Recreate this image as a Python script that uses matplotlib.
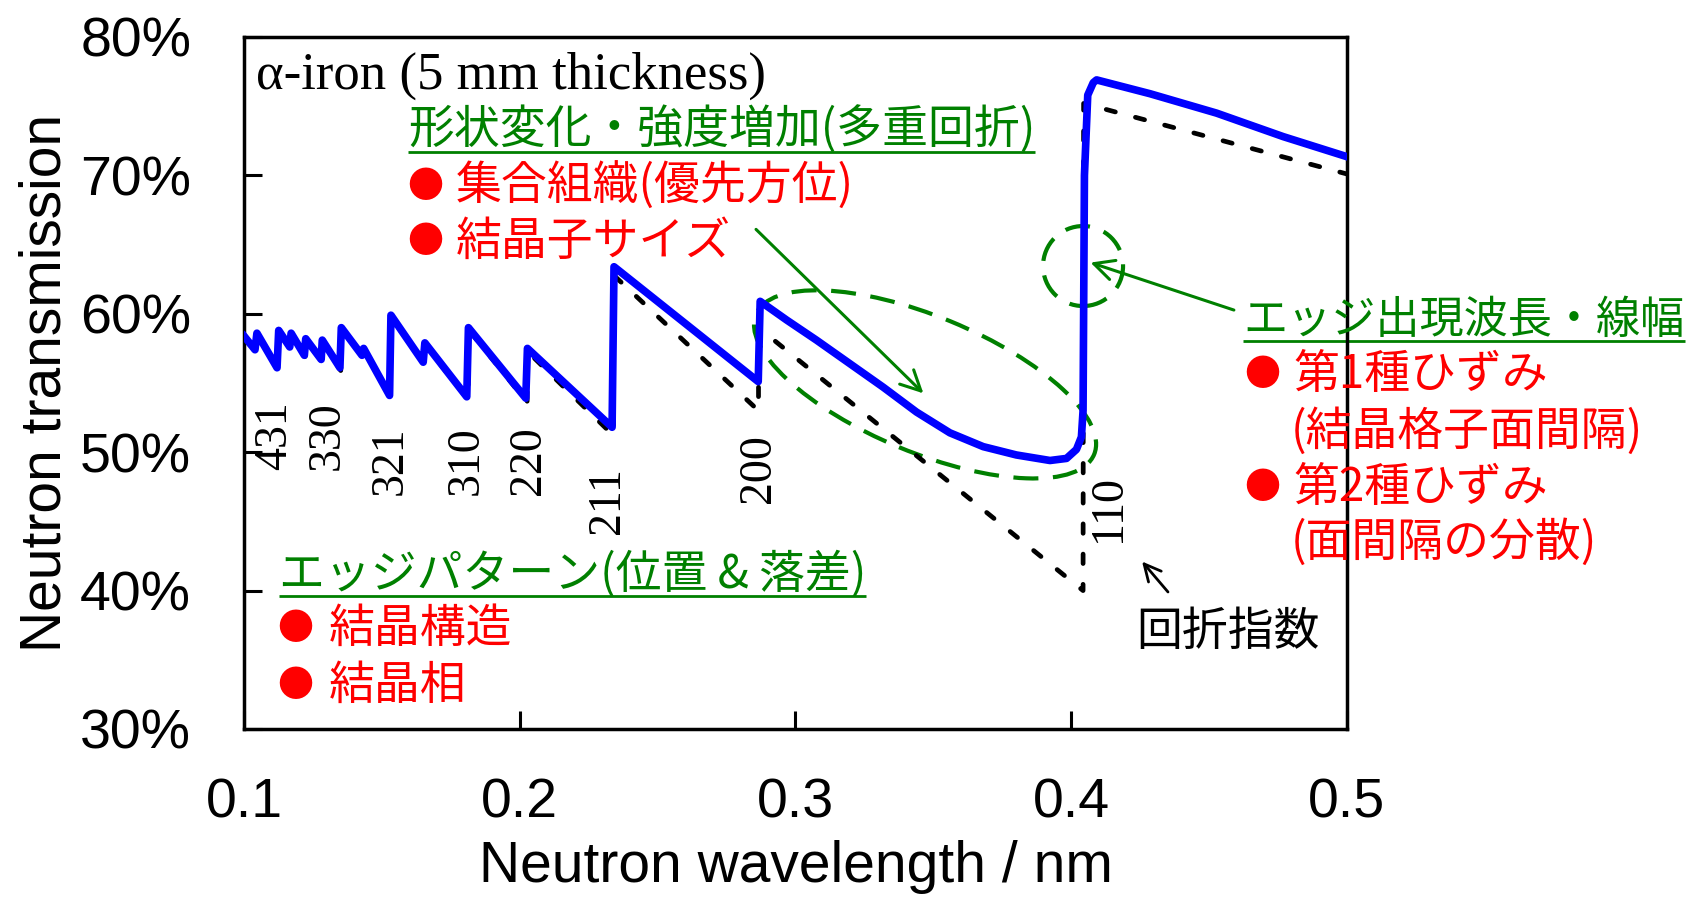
import matplotlib
matplotlib.use("Agg")
import matplotlib.pyplot as plt
from matplotlib.patches import Ellipse, Circle
from matplotlib.transforms import ScaledTranslation

# ---------------- data ----------------
# measured neutron transmission of alpha-iron (%), wavelength in nm
wavelength = [0.1000, 0.1040, 0.1047, 0.1120, 0.1126, 0.1166, 0.1171, 0.1219, 0.1224,
              0.1280, 0.1284, 0.1348, 0.1353, 0.1428, 0.1434, 0.1528, 0.1533, 0.1650,
              0.1656, 0.1808, 0.1814, 0.2022, 0.2028, 0.2335, 0.2342,
              0.2865, 0.2872, 0.2968, 0.3076, 0.3197, 0.3318, 0.3439, 0.3560, 0.3681,
              0.3801, 0.3923, 0.3983, 0.4019, 0.4037, 0.4043, 0.4048, 0.4060, 0.4080,
              0.4092, 0.4286, 0.4527, 0.4769, 0.5000]
transmission = [58.4, 57.4, 58.6, 56.1, 58.8, 57.6, 58.6, 57.0, 58.2,
                56.7, 58.1, 56.1, 59.0, 57.0, 57.5, 54.1, 59.9, 56.5,
                57.9, 54.0, 59.0, 53.9, 57.5, 51.8, 63.4,
                55.1, 60.9, 59.55, 58.1, 56.4, 54.7, 52.9, 51.4, 50.4,
                49.8, 49.4, 49.55, 50.2, 51.1, 53.0, 70.0, 75.8, 76.7,
                76.9, 75.9, 74.5, 72.8, 71.35]

# calculated transmission (dashed)
calc_wavelength = [0.1000, 0.1047, 0.1047, 0.1124, 0.1124, 0.1170, 0.1170, 0.1222, 0.1222,
                   0.1282, 0.1282, 0.1351, 0.1351, 0.1433, 0.1433, 0.1532, 0.1532, 0.1655,
                   0.1655, 0.1813, 0.1813, 0.2027, 0.2027, 0.2340, 0.2340, 0.2866, 0.2866,
                   0.4043, 0.4045, 0.5000]
calc_transmission = [58.2, 57.2, 58.5, 55.9, 58.7, 57.4, 58.5, 56.9, 58.1,
                     56.6, 58.0, 55.9, 58.9, 56.9, 57.4, 53.9, 59.8, 56.3,
                     57.8, 53.8, 58.9, 53.6, 57.3, 51.2, 62.8, 53.0, 59.0,
                     40.0, 75.2, 70.1]

# diffraction indices
hkl_labels = ['431', '330', '321', '310', '220', '211', '200', '110']
hkl_x = [0.1112, 0.1301, 0.1533, 0.1805, 0.2034, 0.2320, 0.2868, 0.4137]
hkl_y = [51.2, 51.2, 49.4, 49.4, 49.4, 46.5, 48.8, 45.9]

x_ticks = [0.1, 0.2, 0.3, 0.4, 0.5]
y_ticks = [30, 40, 50, 60, 70, 80]

jp = ['Noto Sans CJK JP', 'DejaVu Sans']
sans = 'Liberation Sans'
serif = 'Liberation Serif'
GREEN = '#008000'
RED = '#FF0000'

fig = plt.figure(figsize=(16.93, 9.02), dpi=100)
ax = fig.add_axes([0.1441, 0.1918, 0.6515, 0.7672])

ax.plot(calc_wavelength, calc_transmission, color='black', lw=3.4, linestyle=(0, (2.0, 4.4)),
        dash_capstyle='round', zorder=2)
ax.plot(wavelength, transmission, color='#0000FF', lw=5.5, solid_joinstyle='round', zorder=3)

ax.set_xlim(0.1, 0.5)
ax.set_ylim(30, 80)
ax.set_xticks(x_ticks)
ax.set_yticks(y_ticks)
ax.set_xticklabels([f'{v:.1f}' for v in x_ticks], fontfamily=sans, fontsize=40)
ax.set_yticklabels([f'{v}%' for v in y_ticks], fontfamily=sans, fontsize=40)
ax.tick_params(axis='both', direction='in', length=13, width=2.2)
ax.tick_params(axis='y', pad=38)
ax.tick_params(axis='x', pad=35)
for s in ax.spines.values():
    s.set_linewidth(2.5)

ax.set_xlabel('Neutron wavelength / nm', fontfamily=sans, fontsize=41)
ax.set_ylabel('Neutron transmission', fontfamily=sans, fontsize=41)
ax.xaxis.set_label_coords(0.5, -0.16)
ax.yaxis.set_label_coords(-0.155, 0.5)

# sample name
ax.text(0.1043, 77.2, 'α-iron (5 mm thickness)', fontfamily=serif, fontsize=38,
        ha='left', va='center')

# hkl labels
for lab, x, y in zip(hkl_labels, hkl_x, hkl_y):
    ax.text(x, y, lab, fontfamily=serif, fontsize=33, rotation=90, ha='center', va='center',
            zorder=4)

# annotation texts
fs = 33
green_titles = []
green_titles.append(ax.text(0.1595, 73.21, '形状変化・強度増加(多重回折)', color=GREEN,
                            fontfamily=jp, fontsize=fs, ha='left', va='center'))
green_titles.append(ax.text(0.11269, 41.13, 'エッジパターン(位置 & 落差)', color=GREEN,
                            fontfamily=jp, fontsize=fs, ha='left', va='center'))
green_titles.append(ax.text(0.4624, 59.55, 'エッジ出現波長・線幅', color=GREEN,
                            fontfamily=jp, fontsize=31.8, ha='left', va='center'))

bullets = [(0.16564, 0.17688, 69.16, '集合組織(優先方位)'),
           (0.16564, 0.17688, 65.19, '結晶子サイズ'),
           (0.11849, 0.13083, 37.23, '結晶構造'),
           (0.11849, 0.13083, 33.11, '結晶相'),
           (0.46918, 0.48042, 55.58, '第1種ひずみ'),
           (0.46918, 0.48042, 47.41, '第2種ひずみ')]
for bx, tx, y, s in bullets:
    ax.text(bx, y, '●', color=RED, fontfamily=jp, fontsize=26, ha='center', va='center')
    ax.text(tx, y, s, color=RED, fontfamily=jp, fontsize=fs, ha='left', va='center')
ax.text(0.4797, 51.46, '(結晶格子面間隔)', color=RED, fontfamily=jp, fontsize=fs,
        ha='left', va='center')
ax.text(0.4797, 43.44, '(面間隔の分散)', color=RED, fontfamily=jp, fontsize=fs,
        ha='left', va='center')
ax.text(0.42348, 37.01, '回折指数', color='black', fontfamily=jp, fontsize=fs,
        ha='left', va='center')

# arrows
ax.annotate('', xy=(0.3464, 54.25), xytext=(0.2857, 66.1),
            arrowprops=dict(arrowstyle='->', color=GREEN, lw=2.2, mutation_scale=36,
                            shrinkA=0, shrinkB=0))
ax.annotate('', xy=(0.4070, 63.7), xytext=(0.459, 60.27),
            arrowprops=dict(arrowstyle='->', color=GREEN, lw=2.2, mutation_scale=36,
                            shrinkA=0, shrinkB=0), annotation_clip=False)
ax.annotate('', xy=(0.4257, 42.1), xytext=(0.4351, 39.9),
            arrowprops=dict(arrowstyle='->', color='black', lw=2, mutation_scale=30,
                            shrinkA=0, shrinkB=0))

# dashed ellipse / circle (size in inches, centre in data)
ell = Ellipse((0, 0), 3.66, 1.36, angle=-22.5, fill=False, edgecolor=GREEN, lw=3,
              linestyle=(0, (6, 3.5)),
              transform=fig.dpi_scale_trans + ScaledTranslation(0.347, 54.9, ax.transData))
ax.add_patch(ell)
circ = Circle((0, 0), 0.40, fill=False, edgecolor=GREEN, lw=3, linestyle=(0, (6, 3.5)),
              transform=fig.dpi_scale_trans + ScaledTranslation(0.4043, 63.45, ax.transData))
ax.add_patch(circ)

# underline the green headings
fig.canvas.draw()
inv = ax.transData.inverted()
for t in green_titles:
    bb = t.get_window_extent()
    x0 = inv.transform((bb.x0, 0))[0]
    x1 = inv.transform((bb.x1, 0))[0]
    y = t.get_position()[1] - 1.55
    ax.plot([x0, x1], [y, y], color=GREEN, lw=2, clip_on=False, solid_capstyle='butt')

fig.savefig('out.png', dpi=100)
